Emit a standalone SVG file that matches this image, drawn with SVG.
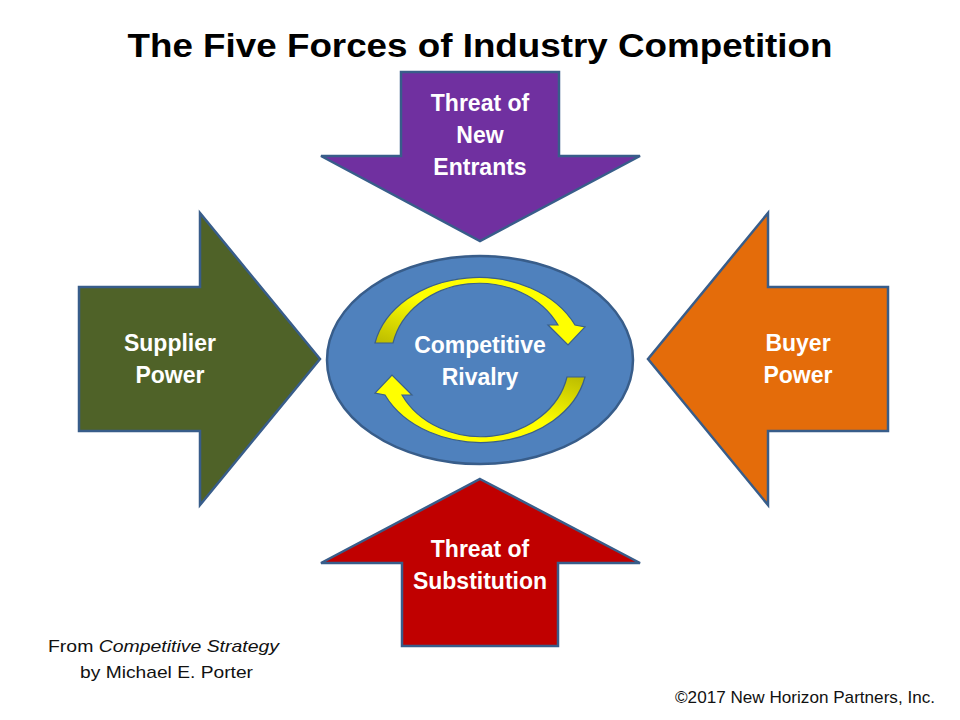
<svg xmlns="http://www.w3.org/2000/svg" width="960" height="720" viewBox="0 0 960 720">
<style>
.lbl{font-family:"Liberation Sans",Arial,sans-serif;font-weight:bold;font-size:23px;fill:#fff;text-anchor:middle}
.force{stroke:#385D8A;stroke-width:2.5;stroke-linejoin:miter}
.foot{font-family:"Liberation Sans",Arial,sans-serif;font-size:17px;fill:#111}
</style>
<defs>
<linearGradient id="yg" x1="0" y1="1" x2="1" y2="0">
<stop offset="0" stop-color="#B8B800"/>
<stop offset="0.45" stop-color="#FFFF00"/>
<stop offset="1" stop-color="#FFFF00"/>
</linearGradient>
</defs>
<rect width="960" height="720" fill="#fff"/>
<text x="480" y="57" font-family="'Liberation Sans',Arial,sans-serif" font-weight="bold" font-size="33" text-anchor="middle" textLength="705" lengthAdjust="spacingAndGlyphs" fill="#000">The Five Forces of Industry Competition</text>
<g id="new-entrants">
<polygon class="force" fill="#7030A0" points="401,72 559,72 559,156 640,156 480,241 321,156 401,156"/>
<text class="lbl" x="480" y="111">Threat of</text>
<text class="lbl" x="480" y="143">New</text>
<text class="lbl" x="480" y="175">Entrants</text>
</g>
<g id="substitution">
<polygon class="force" fill="#C00000" points="480,479 640,563 558,563 558,646 402,646 402,563 321,563"/>
<text class="lbl" x="480" y="557">Threat of</text>
<text class="lbl" x="480" y="589">Substitution</text>
</g>
<g id="supplier-power">
<polygon class="force" fill="#4F6228" points="79,287 200,287 200,213 320,359 200,505 200,431 79,431"/>
<text class="lbl" x="170" y="351">Supplier</text>
<text class="lbl" x="170" y="383">Power</text>
</g>
<g id="buyer-power">
<polygon class="force" fill="#E46C0A" points="888,287 768,287 768,213 648,359 768,505 768,431 888,431"/>
<text class="lbl" x="798" y="351">Buyer</text>
<text class="lbl" x="798" y="383">Power</text>
</g>
<g id="rivalry">
<ellipse cx="480" cy="360" rx="153" ry="104" fill="#4F81BD" stroke="#385D8A" stroke-width="2.5"/>
<g id="cycle-arrows" fill="url(#yg)" stroke="#3A5F8A" stroke-width="1.2">
<path d="M375,343 A106,82 0 0 1 575,325 L585,327 L568,345 L548,325 L558,325 A88,75 0 0 0 393,343 Z"/>
<path transform="rotate(180 480 360)" d="M375,343 A106,82 0 0 1 575,325 L585,327 L568,345 L548,325 L558,325 A88,75 0 0 0 393,343 Z"/>
</g>
<text class="lbl" x="480" y="353">Competitive</text>
<text class="lbl" x="480" y="385">Rivalry</text>
</g>
<g id="footer">
<text class="foot" x="48" y="652" textLength="231" lengthAdjust="spacingAndGlyphs">From <tspan font-style="italic">Competitive Strategy</tspan></text>
<text class="foot" x="80" y="678" textLength="173" lengthAdjust="spacingAndGlyphs">by Michael E. Porter</text>
<text class="foot" x="675" y="703" textLength="260" lengthAdjust="spacingAndGlyphs">©2017 New Horizon Partners, Inc.</text>
</g>
</svg>
